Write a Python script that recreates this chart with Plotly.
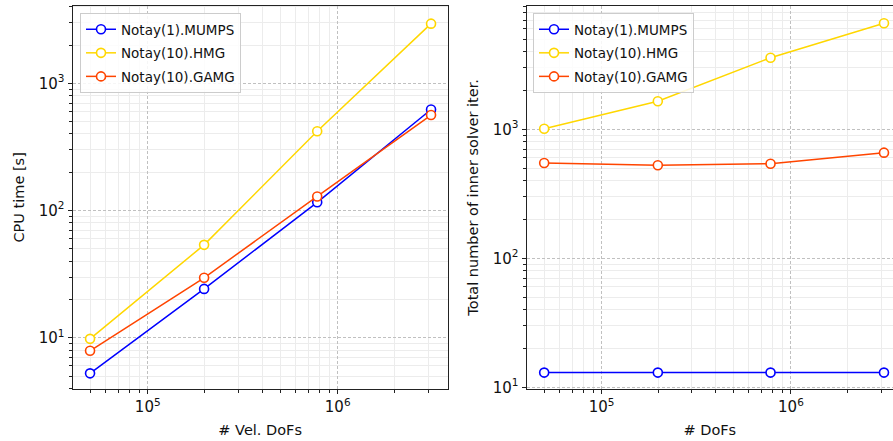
import plotly.graph_objects as go

# Data
dofs = [4.97e4, 1.98e5, 7.8e5, 3.1e6]
series_names = ["Notay(1).MUMPS", "Notay(10).HMG", "Notay(10).GAMG"]
cpu_mumps = [5.25, 24.2, 116, 622]
cpu_hmg = [9.8, 53.7, 420, 2944]
cpu_gamg = [7.9, 29.6, 129, 563]
iter_mumps = [13, 13, 13, 13]
iter_hmg = [1010, 1650, 3590, 6640]
iter_gamg = [548, 526, 541, 659]
colors = ["#0000ff", "#ffd700", "#ff4500"]
x_tick_vals = [1e5, 1e6]
x_tick_text = ["10<sup>5</sup>", "10<sup>6</sup>"]
y_tick_vals = [1e1, 1e2, 1e3]
y_tick_text = ["10<sup>1</sup>", "10<sup>2</sup>", "10<sup>3</sup>"]
minor_decades = [1e0, 1e1, 1e2, 1e3, 1e4, 1e5, 1e6]
minor_mults = [2, 3, 4, 5, 6, 7, 8, 9]
minor_vals = [d * m for d in minor_decades for m in minor_mults]

W, H = 893, 441
FONT = "DejaVu Sans"

fig = go.Figure()

def add(x, y, name, color, xa, ya, legend, grp):
    fig.add_trace(go.Scatter(
        x=x, y=y, name=name, mode="lines+markers",
        line=dict(color=color, width=1.5),
        marker=dict(symbol="circle", size=9, color="white",
                    line=dict(color=color, width=1.6)),
        xaxis=xa, yaxis=ya, legend=legend, legendgroup=grp, cliponaxis=False))

for i, (name, ys, c) in enumerate(zip(series_names, [cpu_mumps, cpu_hmg, cpu_gamg], colors)):
    add(dofs, ys, name, c, "x", "y", "legend", "a%d" % i)
for i, (name, ys, c) in enumerate(zip(series_names, [iter_mumps, iter_hmg, iter_gamg], colors)):
    add(dofs, ys, name, c, "x2", "y2", "legend2", "b%d" % i)

def px_x(p):
    return p / W

def px_y(p):
    return 1 - p / H

grid_major = "#c0c0c0"
grid_minor = "#ececec"

def axis_common(vals, text):
    return dict(
        type="log", tickmode="array", tickvals=vals, ticktext=text,
        showline=True, linecolor="#222", linewidth=1.3,
        ticks="outside", ticklen=4, tickwidth=1, tickcolor="#222",
        showgrid=True, gridcolor=grid_major, griddash="3px,2px", gridwidth=0.8,
        zeroline=False, automargin=False,
        tickfont=dict(family=FONT, size=15, color="#111"),
        minor=dict(tickmode="array", tickvals=minor_vals,
                   ticks="outside", ticklen=2.5, tickcolor="#222", tickwidth=0.8,
                   showgrid=True, gridcolor=grid_minor, gridwidth=0.8, griddash="solid"),
    )

title_font = dict(family=FONT, size=14.5, color="#111")

fig.update_layout(
    width=W, height=H,
    margin=dict(l=0, r=0, t=0, b=0),
    paper_bgcolor="white", plot_bgcolor="white",
    font=dict(family=FONT, size=13.5, color="#111"),
    xaxis=dict(axis_common(x_tick_vals, x_tick_text), domain=[px_x(72.7), px_x(447.7)],
               range=[4.605, 6.579], anchor="y", mirror=True,
               title=dict(text="# Vel. DoFs", standoff=9, font=title_font)),
    yaxis=dict(axis_common(y_tick_vals, y_tick_text), domain=[px_y(389), px_y(5.7)],
               range=[0.597, 3.61], anchor="x", mirror=True,
               title=dict(text="CPU time [s]", standoff=10, font=title_font)),
    xaxis2=dict(axis_common(x_tick_vals, x_tick_text), domain=[px_x(526.7), 1.0],
                range=[4.604, 4.604 + (893 - 526.7) / 189.3], anchor="y2", mirror=True,
                title=dict(text="# DoFs", standoff=9, font=title_font)),
    yaxis2=dict(axis_common(y_tick_vals, y_tick_text), domain=[px_y(389), px_y(5.7)],
                range=[0.987, 3.958], anchor="x2", mirror=False,
                title=dict(text="Total number of inner solver iter.", standoff=10, font=title_font)),
    legend=dict(x=px_x(80), y=px_y(13), xanchor="left", yanchor="top",
                bgcolor="rgba(255,255,255,0.85)", bordercolor="#cccccc", borderwidth=1,
                font=dict(family=FONT, size=13.5, color="#111"), tracegroupgap=3),
    legend2=dict(x=px_x(533), y=px_y(13), xanchor="left", yanchor="top",
                 bgcolor="rgba(255,255,255,0.85)", bordercolor="#cccccc", borderwidth=1,
                 font=dict(family=FONT, size=13.5, color="#111"), tracegroupgap=3),
    showlegend=True,
)

fig.write_html("out.html", config={"displayModeBar": False},
               post_script="document.body.style.margin='0';document.body.style.overflow='hidden';")
